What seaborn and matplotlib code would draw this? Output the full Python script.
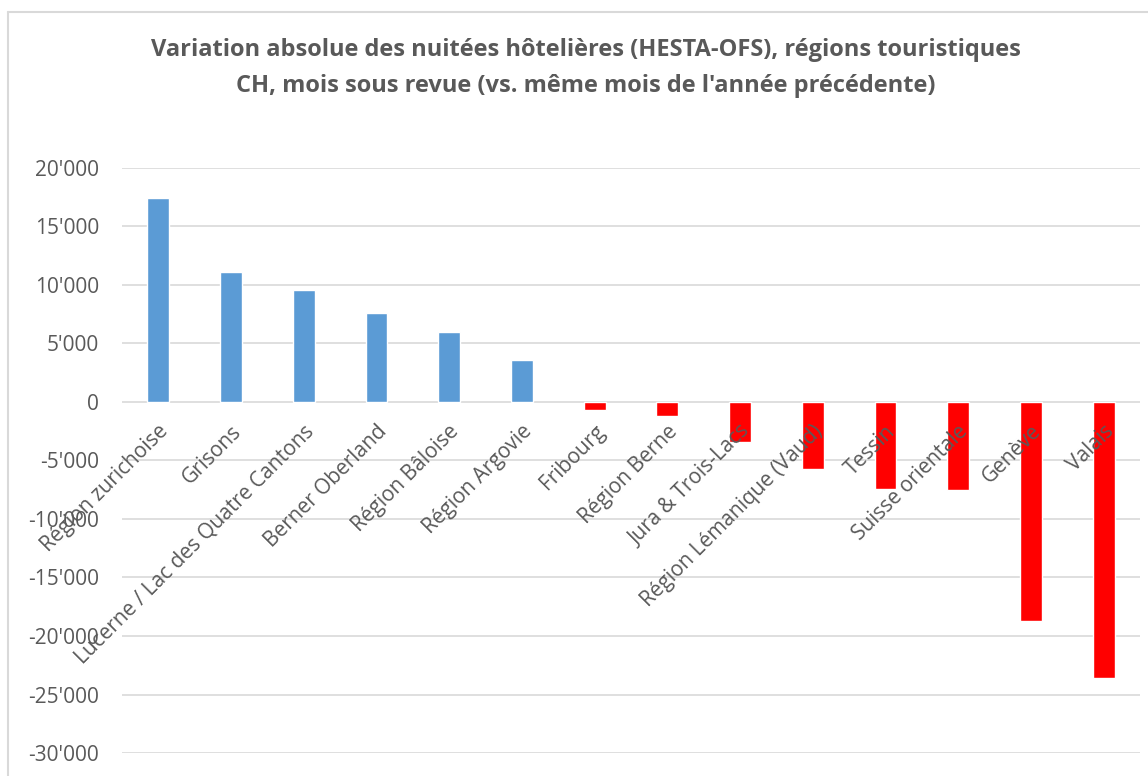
import matplotlib
matplotlib.use("Agg")
import matplotlib.pyplot as plt
import seaborn as sns
import pandas as pd
from matplotlib.ticker import FuncFormatter, MultipleLocator

# Data
regions = ["Région zurichoise", "Grisons", "Lucerne / Lac des Quatre Cantons",
           "Berner Oberland", "Région Bâloise", "Région Argovie", "Fribourg",
           "Région Berne", "Jura & Trois-Lacs", "Région Lémanique (Vaud)",
           "Tessin", "Suisse orientale", "Genève", "Valais"]
variation = [17450, 11100, 9550, 7600, 6000, 3550, -700,
             -1200, -3400, -5700, -7450, -7550, -18750, -23550]

df = pd.DataFrame({"region": regions, "value": variation})
colors = ["#5B9BD5" if v >= 0 else "#FF0000" for v in variation]

sns.set_style("white")
plt.rcParams['font.family'] = ['Open Sans', 'DejaVu Sans']
gray = "#595959"

fig = plt.figure(figsize=(11.48, 7.76), dpi=100)
ax = fig.add_axes([0.1063, 0.0296, 0.8867, 0.754])

sns.barplot(data=df, x="region", y="value", hue="region", palette=colors,
            saturation=1, legend=False, width=0.3, ax=ax, zorder=3)

ax.set_ylim(-30000, 20000)
ax.set_xlim(-0.5, len(regions) - 0.5)
ax.yaxis.set_major_locator(MultipleLocator(5000))
ax.yaxis.set_major_formatter(FuncFormatter(lambda v, p: f"{v:,.0f}".replace(",", "'")))
ax.grid(axis="y", color="#D9D9D9", linewidth=1.2, zorder=0)
ax.set_axisbelow(True)
for s in ax.spines.values():
    s.set_visible(False)
ax.tick_params(axis="y", length=0, pad=16.5, labelsize=15, labelcolor=gray)
ax.set_xlabel("")
ax.set_ylabel("")
ax.set_xticks([])

# category labels hanging from the zero line, Excel style
for i, name in enumerate(regions):
    ax.annotate(name, xy=(i, 0), xytext=(5, -19), textcoords="offset points",
                rotation=45, rotation_mode="anchor", ha="right", va="center",
                fontsize=15, color=gray, zorder=5)

fig.text(0.51, 0.935, "Variation absolue des nuitées hôtelières (HESTA-OFS), régions touristiques",
         ha="center", va="center", fontsize=17, fontweight="bold", color=gray)
fig.text(0.51, 0.889, "CH, mois sous revue (vs. même mois de l'année précédente)",
         ha="center", va="center", fontsize=17, fontweight="bold", color=gray)

# outer chart frame
fig.add_artist(plt.Line2D([0.007, 0.007], [0.0, 0.985], color="#D9D9D9", linewidth=1.5))
fig.add_artist(plt.Line2D([0.007, 1.0], [0.985, 0.985], color="#D9D9D9", linewidth=1.5))

fig.savefig("out.png", dpi=100)
